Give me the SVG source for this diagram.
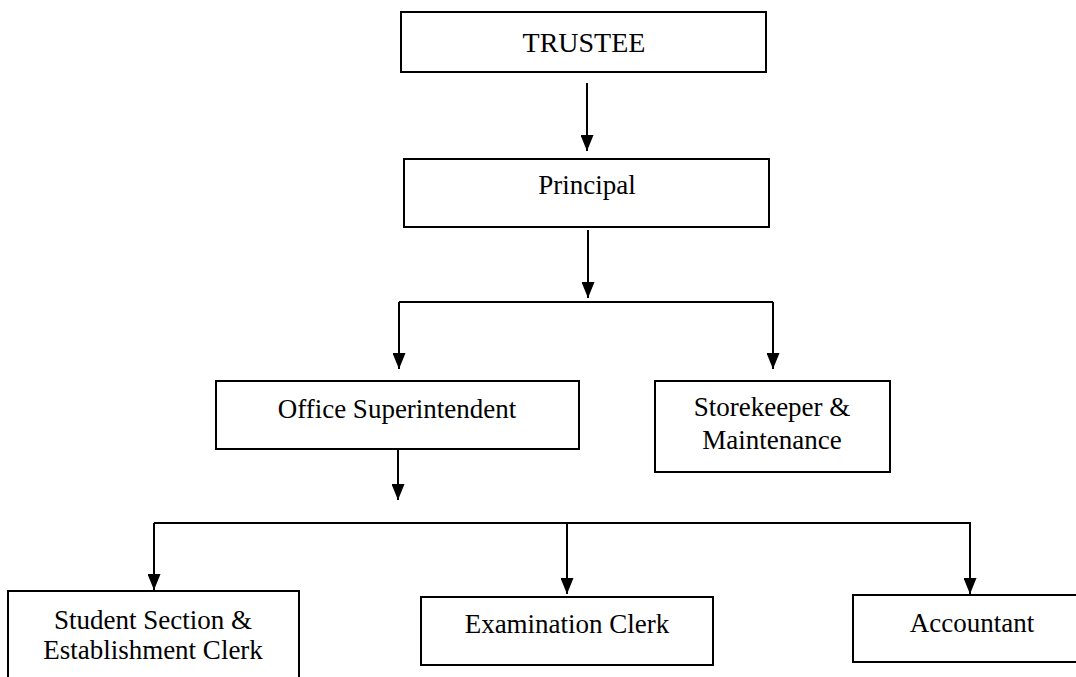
<svg xmlns="http://www.w3.org/2000/svg" width="1076" height="677" viewBox="0 0 1076 677">
<style>
.box{fill:#fff;stroke:#000;stroke-width:2}
.t{font-family:"Liberation Serif","Times New Roman",serif;font-size:27px;fill:#000;text-anchor:middle}
.c{fill:none;stroke:#000;stroke-width:2}
</style>
<defs>
<marker id="ah" markerUnits="userSpaceOnUse" markerWidth="16" markerHeight="13" refX="16" refY="6.5" orient="auto" viewBox="0 0 16 13">
<path d="M0,0 L16,6.5 L0,13 Z" fill="#000"/>
</marker>
</defs>
<rect width="1076" height="677" fill="#fff"/>
<g id="connectors">
<line class="c" x1="587" y1="83" x2="587" y2="151" marker-end="url(#ah)"/>
<line class="c" x1="588" y1="230" x2="588" y2="298" marker-end="url(#ah)"/>
<line class="c" x1="399" y1="302" x2="773" y2="302"/>
<line class="c" x1="399" y1="302" x2="399" y2="369" marker-end="url(#ah)"/>
<line class="c" x1="773" y1="302" x2="773" y2="369" marker-end="url(#ah)"/>
<line class="c" x1="398" y1="434" x2="398" y2="500" marker-end="url(#ah)"/>
<line class="c" x1="154" y1="523" x2="971" y2="523"/>
<line class="c" x1="154" y1="523" x2="154" y2="590" marker-end="url(#ah)"/>
<line class="c" x1="567" y1="523" x2="567" y2="594" marker-end="url(#ah)"/>
<line class="c" x1="970" y1="523" x2="970" y2="594" marker-end="url(#ah)"/>
</g>
<g id="trustee">
<rect class="box" x="401" y="12" width="365" height="60"/>
<text class="t" x="584" y="52" style="font-size:28px">TRUSTEE</text>
</g>
<g id="principal">
<rect class="box" x="404" y="159" width="365" height="68"/>
<text class="t" x="587" y="194">Principal</text>
</g>
<g id="office-superintendent">
<rect class="box" x="216" y="381" width="363" height="68"/>
<text class="t" x="397" y="418">Office Superintendent</text>
</g>
<g id="storekeeper">
<rect class="box" x="655" y="381" width="235" height="91"/>
<text class="t" x="772" y="416">Storekeeper &amp;</text>
<text class="t" x="772" y="449">Maintenance</text>
</g>
<g id="student-section">
<rect class="box" x="8" y="591" width="291" height="110"/>
<text class="t" x="153" y="629">Student Section &amp;</text>
<text class="t" x="153" y="659">Establishment Clerk</text>
</g>
<g id="examination-clerk">
<rect class="box" x="421" y="597" width="292" height="68"/>
<text class="t" x="567" y="633">Examination Clerk</text>
</g>
<g id="accountant">
<rect class="box" x="853" y="595" width="237" height="67"/>
<text class="t" x="972" y="632">Accountant</text>
</g>
</svg>
